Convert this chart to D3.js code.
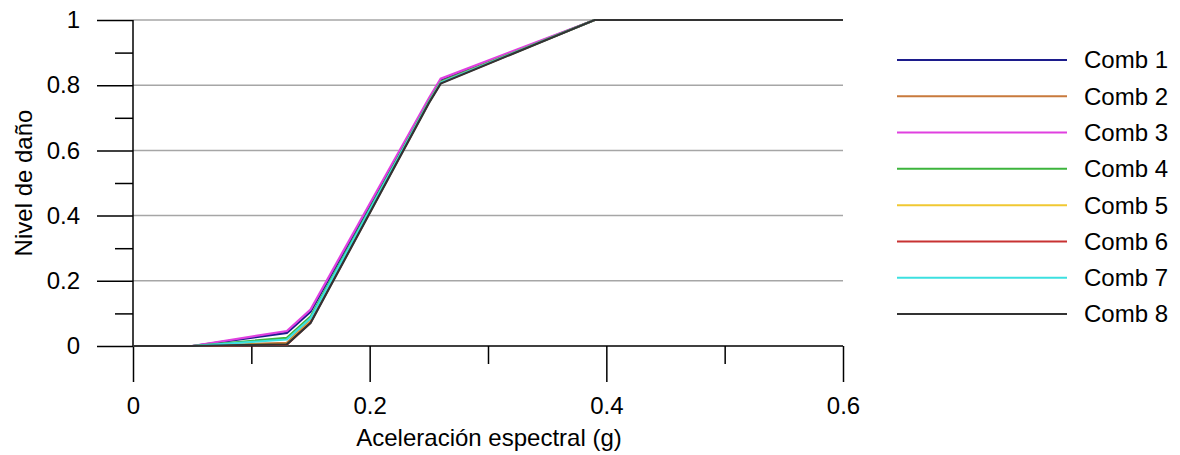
<!DOCTYPE html>
<html>
<head>
<meta charset="utf-8">
<script src="https://cdn.jsdelivr.net/npm/d3@7"></script>
<style>
  html, body { margin: 0; padding: 0; background: #fff; }
  svg { display: block; font-family: "Liberation Sans", Arial, sans-serif; }
</style>
</head>
<body>
<svg id="chart" width="1180" height="455"></svg>
<script>
// ---- data ----
const xValues = [0, 0.05, 0.13, 0.15, 0.25, 0.26, 0.39, 0.6];
const seriesNames = ["Comb 1", "Comb 2", "Comb 3", "Comb 4", "Comb 5", "Comb 6", "Comb 7", "Comb 8"];
const comb1 = [0, 0, 0.040, 0.105, 0.755, 0.815, 1, 1];
const comb2 = [0, 0, 0.010, 0.080, 0.750, 0.810, 1, 1];
const comb3 = [0, 0, 0.046, 0.112, 0.760, 0.820, 1, 1];
const comb4 = [0, 0, 0.025, 0.090, 0.750, 0.810, 1, 1];
const comb5 = [0, 0, 0.006, 0.075, 0.748, 0.808, 1, 1];
const comb6 = [0, 0, 0.004, 0.072, 0.747, 0.807, 1, 1];
const comb7 = [0, 0, 0.020, 0.085, 0.748, 0.808, 1, 1];
const comb8 = [0, 0, 0.005, 0.070, 0.745, 0.805, 1, 1];
const seriesValues = [comb1, comb2, comb3, comb4, comb5, comb6, comb7, comb8];
const seriesColors = ["#1c1c8c", "#c87a3c", "#e040e0", "#3cb43c", "#f0c832", "#c83232", "#3ce0e0", "#333333"];
const xTickLabels = ["0", "0.2", "0.4", "0.6"];
const yTickLabels = ["0", "0.2", "0.4", "0.6", "0.8", "1"];
const xTitle = "Aceleración espectral (g)";
const yTitle = "Nivel de daño";

// ---- layout ----
const svg = d3.select("#chart");
const pLeft = 133, pRight = 843, pTop = 20, pBottom = 346;
const x = d3.scaleLinear().domain([0, 0.6]).range([pLeft, pRight]);
const y = d3.scaleLinear().domain([0, 1]).range([pBottom, pTop]);
const fontSize = 24;

// gridlines
const yMajor = yTickLabels.map(Number);
svg.append("g").selectAll("line").data(yMajor.filter(d => d > 0)).join("line")
  .attr("x1", pLeft).attr("x2", pRight)
  .attr("y1", d => y(d)).attr("y2", d => y(d))
  .attr("stroke", "#a6a6a6").attr("stroke-width", 1.5);

// y axis: major ticks
const yAxisMajor = d3.axisLeft(y).tickValues(yMajor).tickSize(36).tickPadding(17)
  .tickFormat((d, i) => yTickLabels[i]);
const gy = svg.append("g").attr("transform", `translate(${pLeft},0)`).call(yAxisMajor);
gy.select(".domain").remove();
gy.selectAll(".tick line").attr("stroke", "#000").attr("stroke-width", 1.5);
gy.selectAll(".tick text").attr("font-size", fontSize).attr("fill", "#000")
  .attr("font-family", "Liberation Sans, Arial, sans-serif");
const gyMinor = svg.append("g").attr("transform", `translate(${pLeft},0)`)
  .call(d3.axisLeft(y).tickValues([0.1, 0.3, 0.5, 0.7, 0.9]).tickSize(18).tickFormat(""));
gyMinor.select(".domain").remove();
gyMinor.selectAll(".tick line").attr("stroke", "#000").attr("stroke-width", 1.5);

// x axis
const xMajor = xTickLabels.map(Number);
const xAxisMajor = d3.axisBottom(x).tickValues(xMajor).tickSize(36).tickPadding(15)
  .tickFormat((d, i) => xTickLabels[i]);
const gx = svg.append("g").attr("transform", `translate(0,${pBottom})`).call(xAxisMajor);
gx.select(".domain").remove();
gx.selectAll(".tick line").attr("stroke", "#000").attr("stroke-width", 1.5);
gx.selectAll(".tick text").attr("font-size", fontSize).attr("fill", "#000")
  .attr("font-family", "Liberation Sans, Arial, sans-serif");
const gxMinor = svg.append("g").attr("transform", `translate(0,${pBottom})`)
  .call(d3.axisBottom(x).tickValues([0.1, 0.3, 0.5]).tickSize(18).tickFormat(""));
gxMinor.select(".domain").remove();
gxMinor.selectAll(".tick line").attr("stroke", "#000").attr("stroke-width", 1.5);

// axis lines
svg.append("line").attr("x1", pLeft).attr("x2", pLeft).attr("y1", y(1)).attr("y2", pBottom)
  .attr("stroke", "#000").attr("stroke-width", 1.5);
svg.append("line").attr("x1", pLeft).attr("x2", pRight).attr("y1", pBottom).attr("y2", pBottom)
  .attr("stroke", "#000").attr("stroke-width", 1.5);

// series
const line = d3.line().x((d, i) => x(xValues[i])).y(d => y(d));
svg.append("g").selectAll("path").data(seriesValues).join("path")
  .attr("d", d => line(d))
  .attr("fill", "none")
  .attr("stroke", (d, i) => seriesColors[i])
  .attr("stroke-width", 2.2)
  .attr("stroke-linejoin", "miter");

// titles
svg.append("text").attr("x", 489).attr("y", 446)
  .attr("text-anchor", "middle").attr("font-size", fontSize).text(xTitle);
svg.append("text").attr("transform", `translate(32,${(pTop + pBottom) / 2}) rotate(-90)`)
  .attr("text-anchor", "middle").attr("font-size", fontSize).text(yTitle);

// legend
const legY = d3.scalePoint().domain(seriesNames).range([60, 314]);
const leg = svg.append("g").selectAll("g").data(seriesNames).join("g")
  .attr("transform", d => `translate(0,${legY(d)})`);
leg.append("line").attr("x1", 897).attr("x2", 1067).attr("y1", 0).attr("y2", 0)
  .attr("stroke", (d, i) => seriesColors[i]).attr("stroke-width", 2);
leg.append("text").attr("x", 1084).attr("y", 0).attr("dy", "0.35em")
  .attr("font-size", fontSize).text(d => d);
</script>
</body>
</html>
